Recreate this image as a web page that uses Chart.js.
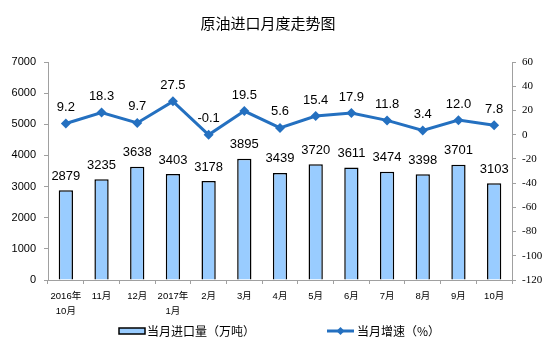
<!DOCTYPE html>
<html>
<head>
<meta charset="utf-8">
<script src="https://cdn.jsdelivr.net/npm/chart.js@4/dist/chart.umd.min.js"></script>
<style>
  html, body { margin: 0; padding: 0; background: #fff; }
  #wrap { width: 554px; height: 347px; position: relative; }
</style>
</head>
<body>
<div id="wrap"><canvas id="c" width="554" height="347"></canvas></div>
<script>
// Monthly crude oil imports (10k tonnes) and year-on-year growth (%)
const categories = [['2016年', '10月'], '11月', '12月', ['2017年', '1月'], '2月', '3月', '4月', '5月', '6月', '7月', '8月', '9月', '10月'];
const importVolume = [2879, 3235, 3638, 3403, 3178, 3895, 3439, 3720, 3611, 3474, 3398, 3701, 3103];
const growthRate = [9.2, 18.3, 9.7, 27.5, -0.1, 19.5, 5.6, 15.4, 17.9, 11.8, 3.4, 12.0, 7.8];
const titleText = '原油进口月度走势图';
const barLegend = '当月进口量（万吨）';
const lineLegend = '当月增速（%）';

const BAR_FILL = '#99CCFF';
const LINE_COLOR = '#2470C0';
const AXIS_COLOR = '#A0A0A0';
const CJK = '"Liberation Sans", "Noto Sans CJK SC", sans-serif';

const decorations = {
  id: 'decorations',
  afterDatasetsDraw(chart) {
    const ctx = chart.ctx;
    ctx.save();
    ctx.fillStyle = '#000';
    ctx.textAlign = 'center';
    ctx.textBaseline = 'middle';
    ctx.font = '13px "Liberation Sans", Arial, sans-serif';
    // value labels on bars
    chart.getDatasetMeta(1).data.forEach((el, i) => {
      ctx.fillText(String(importVolume[i]), el.x, el.y - 14);
    });
    // value labels on line points
    chart.getDatasetMeta(0).data.forEach((el, i) => {
      ctx.fillText(growthRate[i].toFixed(1), el.x, el.y - 16);
    });
    ctx.restore();
  },
  afterDraw(chart) {
    const ctx = chart.ctx;
    ctx.save();
    // title
    ctx.fillStyle = '#000';
    ctx.textAlign = 'center';
    ctx.textBaseline = 'middle';
    ctx.font = '15px "Noto Sans CJK SC", sans-serif';
    ctx.fillText(titleText, 268, 23);

    // legend: bar entry
    const ly = 331;
    ctx.fillStyle = BAR_FILL;
    ctx.fillRect(119, ly - 3, 26, 6);
    ctx.strokeStyle = '#000';
    ctx.lineWidth = 1.5;
    ctx.strokeRect(119, ly - 3, 26, 6);
    ctx.fillStyle = '#000';
    ctx.textAlign = 'left';
    ctx.font = '12px "Noto Sans CJK SC", sans-serif';
    ctx.fillText(barLegend, 147, ly);

    // legend: line entry
    ctx.strokeStyle = LINE_COLOR;
    ctx.lineWidth = 3;
    ctx.beginPath();
    ctx.moveTo(327, ly);
    ctx.lineTo(354, ly);
    ctx.stroke();
    ctx.fillStyle = LINE_COLOR;
    ctx.beginPath();
    ctx.moveTo(340.5, ly - 4);
    ctx.lineTo(344.5, ly);
    ctx.lineTo(340.5, ly + 4);
    ctx.lineTo(336.5, ly);
    ctx.closePath();
    ctx.fill();
    ctx.fillStyle = '#000';
    ctx.fillText(lineLegend, 357, ly);
    ctx.restore();
  }
};

new Chart(document.getElementById('c'), {
  type: 'bar',
  data: {
    labels: categories,
    datasets: [
      {
        type: 'line',
        label: lineLegend,
        data: growthRate,
        yAxisID: 'y1',
        borderColor: LINE_COLOR,
        backgroundColor: LINE_COLOR,
        borderWidth: 3,
        pointStyle: 'rectRot',
        pointRadius: 5,
        pointBorderWidth: 0,
        pointBackgroundColor: LINE_COLOR,
        tension: 0,
        order: 0
      },
      {
        type: 'bar',
        label: barLegend,
        data: importVolume,
        yAxisID: 'y',
        backgroundColor: BAR_FILL,
        borderColor: '#000',
        borderWidth: 1.5,
        categoryPercentage: 1,
        barPercentage: 0.4,
        order: 1
      }
    ]
  },
  options: {
    responsive: false,
    animation: false,
    devicePixelRatio: 1,
    layout: { padding: { top: 62, right: 0, left: 0, bottom: 0 } },
    plugins: {
      legend: { display: false },
      title: { display: false },
      tooltip: { enabled: false }
    },
    scales: {
      x: {
        grid: { display: true, drawOnChartArea: false, tickLength: 4, color: AXIS_COLOR },
        border: { color: AXIS_COLOR, width: 1 },
        ticks: {
          color: '#000',
          font: { family: CJK, size: 9.5, lineHeight: 1.55 },
          maxRotation: 0,
          autoSkip: false,
          padding: 5
        },
        afterFit(scale) { scale.height = 67; }
      },
      y: {
        position: 'left',
        min: 0,
        max: 7000,
        grid: { display: true, drawOnChartArea: false, tickLength: 4, color: AXIS_COLOR },
        border: { color: AXIS_COLOR, width: 1 },
        ticks: {
          stepSize: 1000,
          color: '#000',
          font: { family: '"Liberation Sans", Arial, sans-serif', size: 11 },
          padding: 8,
          callback: (v) => String(v)
        },
        afterFit(scale) { scale.width = 48; }
      },
      y1: {
        position: 'right',
        min: -120,
        max: 60,
        grid: { display: true, drawOnChartArea: false, tickLength: 4, color: AXIS_COLOR },
        border: { color: AXIS_COLOR, width: 1 },
        ticks: {
          stepSize: 20,
          color: '#000',
          font: { family: '"Liberation Serif", "Times New Roman", serif', size: 11 },
          padding: 6,
          callback: (v) => String(v)
        },
        afterFit(scale) { scale.width = 42; }
      }
    }
  },
  plugins: [decorations]
});
</script>
</body>
</html>
